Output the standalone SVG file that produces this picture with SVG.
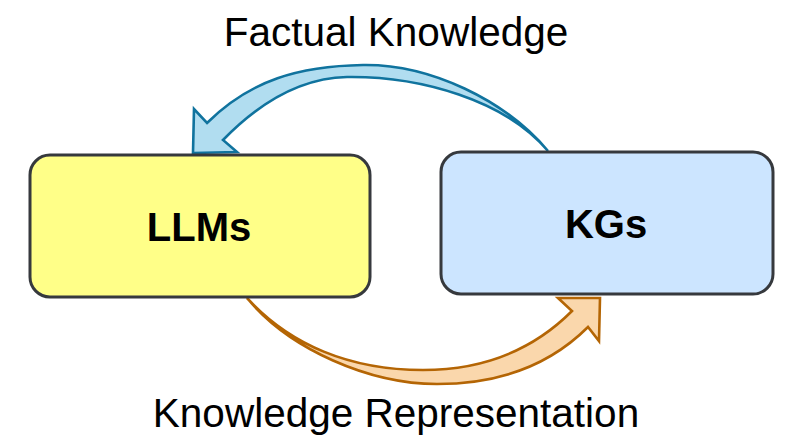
<svg xmlns="http://www.w3.org/2000/svg" width="785" height="437" viewBox="0 0 785 437">
<style>
.node{stroke:#36393d;stroke-width:3}
.ntxt{font-family:"Liberation Sans",Arial,sans-serif;font-weight:bold;font-size:40px;fill:#000;text-anchor:middle}
.ltxt{font-family:"Liberation Sans",Arial,sans-serif;font-size:40.5px;fill:#000;text-anchor:middle}
.blue{fill:#b1ddf0;stroke:#10739e;stroke-width:2.6;stroke-linejoin:miter}
.orange{fill:#fad7ac;stroke:#b46504;stroke-width:2.6;stroke-linejoin:miter}
</style>
<rect width="785" height="437" fill="#fff"/>
<g id="connectors">
<path class="blue" d="M548,151 C505,100 430,64 363,65 C300,66 250,80 207,123 L194,109 L193,153 L237,152 L223,140 C258,104 300,78 347,77 C420,76 505,100 548,151 Z"/>
<path class="orange" d="M247,298 C290,350 370,384 437,384 C500,384 550,365 588,327 L599,341 L600,298 L558,298 L572,311 C535,348 485,370 423,370 C350,370 290,345 247,298 Z"/>
<text class="ltxt" x="396" y="46">Factual Knowledge</text>
<text class="ltxt" x="396" y="427">Knowledge Representation</text>
</g>
<g id="llms">
<rect class="node" x="30" y="155" width="340" height="142" rx="20" fill="#ffff88"/>
<text class="ntxt" x="199" y="241">LLMs</text>
</g>
<g id="kgs">
<rect class="node" x="441" y="152" width="332" height="142" rx="20" fill="#cce5ff"/>
<text class="ntxt" x="606" y="238">KGs</text>
</g>
</svg>
